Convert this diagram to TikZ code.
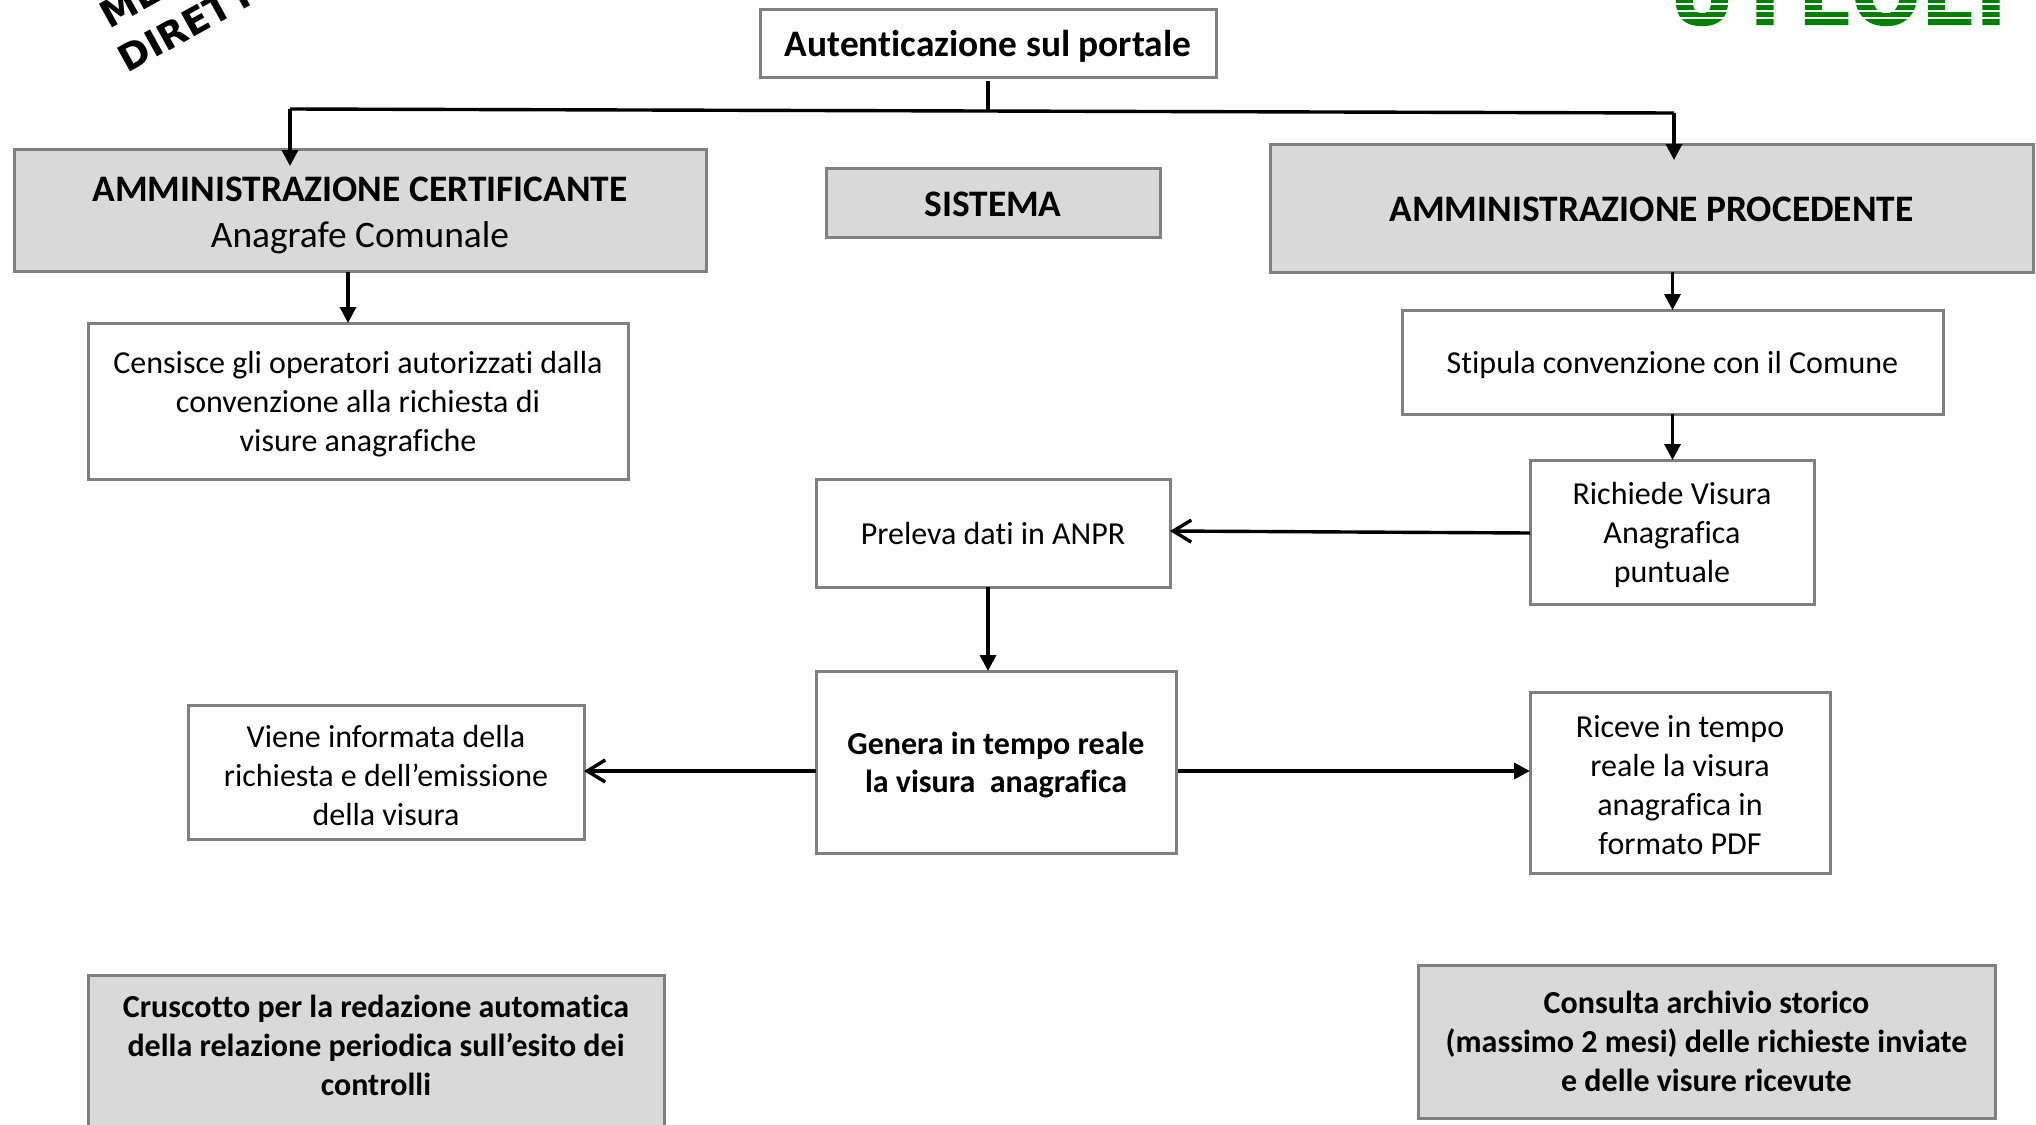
\documentclass[tikz,border=0pt]{standalone}
\usepackage{fontspec}
\usepackage{tikz}
\usetikzlibrary{arrows.meta}
\setmainfont{Carlito}[Ligatures=NoCommon]
\newfontfamily\stampfont{DejaVu Sans}
\newfontfamily\logofont[FakeBold=2.5]{DejaVu Sans}
\newcommand{\droptext}[1]{\rule{0pt}{#1}}

\begin{document}
\begin{tikzpicture}[x=0.5pt,y=-0.5pt]
    \tikzstyle{plainbox}=[rectangle,draw=black!50,fill=white,line width=1.5pt,inner sep=0pt,outer sep=0pt,align=center,text depth=0pt,font=\fontsize{16}{19.45}\selectfont]
    \tikzstyle{graybox}=[plainbox,fill=black!15,font=\fontsize{16}{19.6}\selectfont\bfseries]
    \tikzstyle{bigtext}=[font=\fontsize{18.7}{23}\selectfont\bfseries]
    \tikzstyle{link}=[black,line width=1.7pt]
    \tikzstyle{solidtip}=[link,-{Triangle[length=8pt,width=8pt]}]
    \tikzstyle{opentip}=[link,-{Straight Barb[length=9pt,width=11pt]}]

    \useasboundingbox (0,0) rectangle (2036,1125);
    \clip (0,0) rectangle (2036,1125);

    % top row
    \node[plainbox,bigtext,minimum width=228pt,minimum height=34pt] (auth) at (988,43) {Autenticazione sul portale};
    \node[graybox,bigtext,minimum width=346pt,minimum height=61pt] (cert) at (360,210) {\droptext{14.8pt}AMMINISTRAZIONE CERTIFICANTE\\{\mdseries Anagrafe Comunale}};
    \node[graybox,bigtext,minimum width=167pt,minimum height=34.5pt] (sist) at (993,203) {\droptext{13.4pt}SISTEMA};
    \node[graybox,bigtext,minimum width=381.5pt,minimum height=64pt] (proc) at (1651.5,208) {\droptext{13.4pt}AMMINISTRAZIONE PROCEDENTE};

    % white boxes
    \node[plainbox,text depth=-1.5pt,minimum width=270pt,minimum height=78pt] (cens) at (358,401) {Censisce gli operatori autorizzati dalla\\convenzione alla richiesta di\\visure anagrafiche};
    \node[plainbox,minimum width=270.5pt,minimum height=52pt] (stip) at (1672.5,362) {Stipula convenzione con il Comune};
    \node[plainbox,text depth=-1pt,minimum width=142pt,minimum height=72pt] (rich) at (1672,532) {Richiede Visura\\Anagrafica\\puntuale};
    \node[plainbox,minimum width=177pt,minimum height=54pt] (prel) at (993,533) {Preleva dati in ANPR};
    \node[plainbox,minimum width=180pt,minimum height=91pt,font=\fontsize{16}{19}\selectfont\bfseries] (gen) at (996,762) {Genera in tempo reale\\la visura\ \ anagrafica};
    \node[plainbox,text depth=-4pt,minimum width=198pt,minimum height=67pt] (vien) at (386,772) {\droptext{14.4pt}Viene informata della\\richiesta e dell’emissione\\della visura};
    \node[plainbox,text depth=-2.5pt,minimum width=150pt,minimum height=90.5pt] (ric) at (1680,782.5) {\droptext{13.4pt}Riceve in tempo\\reale la visura\\anagrafica in\\formato PDF};

    % bottom row
    \node[graybox,minimum width=288pt,minimum height=78pt] (crus) at (376,1053) {Cruscotto per la redazione automatica\\della relazione periodica sull’esito dei\\controlli\\[-11.6pt]\mbox{}};
    \node[graybox,minimum width=288.5pt,minimum height=76.5pt] (cons) at (1706.5,1041.5) {Consulta archivio storico\\(massimo 2 mesi) delle richieste inviate\\e delle visure ricevute};

    % bus from the login box
    \coordinate (bus-l) at (290,109);
    \coordinate (bus-r) at (1674,113);
    \draw[link,shorten <=2pt] (auth.south) -- (auth.south |- 0,110);
    \draw[link] (bus-l) -- (bus-r);
    \draw[solidtip,shorten >=-8.5pt] (bus-l) -- (bus-l |- cert.north);
    \draw[solidtip,shorten >=-8pt] (bus-r) -- (bus-r |- proc.north);

    % vertical arrows
    \draw[solidtip,shorten <=0.5pt] (cert.south -| 348,0) -- (cens.north -| 348,0);
    \foreach \from/\to in {proc/stip, stip/rich}
        \draw[solidtip] (\from.south -| stip.south) -- (\to.north -| stip.south);
    \draw[solidtip] (prel.south -| 988,0) -- (gen.north -| 988,0);

    % horizontal arrows
    \draw[opentip] ([yshift=-0.5pt]rich.west) -- ([yshift=1pt]prel.east);
    \draw[opentip] (gen.west |- 0,771) -- (vien.east |- 0,771);
    \draw[solidtip,shorten <=1pt] (gen.east |- 0,771) -- (ric.west |- 0,771);

    % stamp, cut by the page
    \node[rotate=29,anchor=base west,inner sep=0pt,font=\fontsize{18.5}{20}\stampfont\bfseries] (stamp-a) at (109,30) {ME};
    \node[rotate=29,anchor=base west,inner sep=0pt,font=\fontsize{18.5}{20}\stampfont\bfseries] (stamp-b) at (127,74) {DIRETT};

    % logo, cut by the page
    \foreach \num/\letter/\x in {1/U/1702, 2/T/1765, 3/L/1824, 4/O/1886, 5/L/1947, 6/I/1991}
        \node[anchor=base,inner sep=0pt,text=green!50!black,font=\fontsize{40}{44}\logofont\bfseries] (logo-\num) at (\x,24) {\letter};
    \foreach \y in {3.5, 11, 17.5}
        \draw[white,line width=1pt] (1660,\y) -- (2020,\y);
\end{tikzpicture}
\end{document}
